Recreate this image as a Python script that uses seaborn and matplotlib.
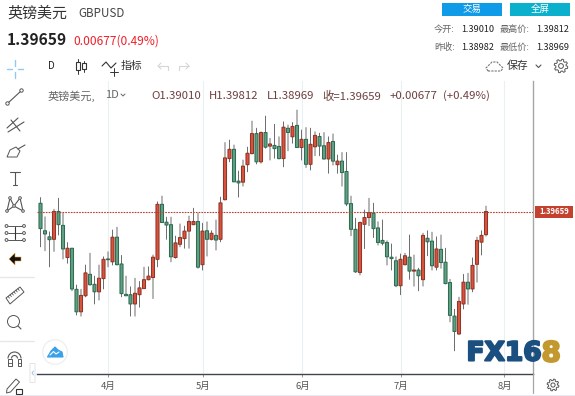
import numpy as np
import pandas as pd
import matplotlib
matplotlib.use("Agg")
import matplotlib.pyplot as plt
from matplotlib.patches import Rectangle, Circle, Polygon, FancyBboxPatch, Arc
import matplotlib.patheffects as pe
import seaborn as sns

# Daily candles
opens = [1.3989,1.3912,1.3895,1.3888,1.3966,1.3927,1.3837,1.3863,1.3748,1.3685,1.3730,1.3790,1.3762,1.3741,1.3778,1.3833,1.3825,1.3894,1.3819,1.3734,
         1.3733,1.3707,1.3733,1.3750,1.3775,1.3781,1.3832,1.3986,1.3936,1.3929,1.3837,1.3874,1.3890,1.3911,1.3929,1.3938,1.3817,1.3912,1.3888,1.3899,
         1.3888,1.3999,1.4114,1.4140,1.4051,1.4048,1.4097,1.4128,1.4184,1.4105,1.4187,1.4149,1.4151,1.4148,1.4114,1.4199,1.4175,1.4207,1.4145,1.4168,
         1.4098,1.4147,1.4176,1.4150,1.4113,1.4162,1.4097,1.4107,1.4078,1.3988,1.3916,1.3795,1.3930,1.3949,1.3961,1.3920,1.3885,1.3879,1.3838,1.3828,
         1.3758,1.3817,1.3838,1.3799,1.3802,1.3775,1.3891,1.3883,1.3810,1.3860,1.3824,1.3767,1.3673,1.3623,1.3707,1.3768,1.3749,1.3818,1.3880,1.3901]
highs = [1.4005,1.3951,1.3909,1.3972,1.4003,1.3961,1.3879,1.3863,1.3760,1.3748,1.3816,1.3849,1.3785,1.3816,1.3839,1.3853,1.3914,1.3922,1.3843,1.3785,
         1.3755,1.3779,1.3770,1.3810,1.3811,1.3844,1.3993,1.4009,1.3950,1.3950,1.3897,1.3931,1.3925,1.3953,1.3975,1.3961,1.3933,1.3937,1.3912,1.3942,
         1.4006,1.4159,1.4166,1.4152,1.4079,1.4110,1.4146,1.4219,1.4199,1.4189,1.4233,1.4171,1.4210,1.4175,1.4217,1.4208,1.4215,1.4250,1.4194,1.4201,
         1.4199,1.4189,1.4185,1.4187,1.4175,1.4183,1.4124,1.4131,1.4131,1.4009,1.3947,1.3937,1.3970,1.4003,1.3989,1.3937,1.3942,1.3884,1.3875,1.3839,
         1.3847,1.3849,1.3900,1.3844,1.3807,1.3905,1.3912,1.3908,1.3895,1.3900,1.3863,1.3776,1.3692,1.3726,1.3790,1.3793,1.3836,1.3894,1.3912,1.3981]
lows = [1.3867,1.3856,1.3811,1.3854,1.3900,1.3833,1.3821,1.3744,1.3676,1.3673,1.3727,1.3759,1.3707,1.3718,1.3749,1.3811,1.3816,1.3816,1.3727,1.3730,
        1.3673,1.3673,1.3698,1.3750,1.3774,1.3722,1.3811,1.3935,1.3888,1.3825,1.3835,1.3867,1.3863,1.3863,1.3929,1.3807,1.3802,1.3841,1.3886,1.3858,
        1.3881,1.3998,1.4105,1.4049,1.4006,1.4037,1.4077,1.4127,1.4099,1.4101,1.4143,1.4110,1.4115,1.4113,1.4091,1.4136,1.4157,1.4145,1.4110,1.4089,
        1.4082,1.4122,1.4122,1.4112,1.4073,1.4096,1.4073,1.4037,1.3982,1.3898,1.3795,1.3788,1.3862,1.3926,1.3893,1.3872,1.3872,1.3816,1.3802,1.3755,
        1.3733,1.3816,1.3776,1.3757,1.3744,1.3757,1.3842,1.3802,1.3802,1.3807,1.3763,1.3657,1.3576,1.3621,1.3693,1.3706,1.3741,1.3768,1.3844,1.3897]
closes = [1.3918,1.3903,1.3887,1.3966,1.3929,1.3861,1.3863,1.3749,1.3685,1.3731,1.3794,1.3761,1.3741,1.3779,1.3832,1.3831,1.3894,1.3817,1.3736,1.3730,
          1.3707,1.3737,1.3752,1.3775,1.3785,1.3838,1.3986,1.3935,1.3928,1.3839,1.3878,1.3893,1.3911,1.3938,1.3938,1.3810,1.3911,1.3888,1.3905,1.3886,
          1.3990,1.4116,1.4140,1.4049,1.4046,1.4093,1.4129,1.4184,1.4105,1.4187,1.4146,1.4155,1.4142,1.4114,1.4202,1.4187,1.4204,1.4145,1.4168,1.4098,
          1.4154,1.4179,1.4149,1.4113,1.4159,1.4107,1.4107,1.4075,1.3987,1.3916,1.3797,1.3935,1.3949,1.3963,1.3918,1.3879,1.3877,1.3839,1.3834,1.3758,
          1.3832,1.3842,1.3799,1.3802,1.3786,1.3899,1.3881,1.3814,1.3861,1.3823,1.3764,1.3675,1.3630,1.3714,1.3768,1.3749,1.3815,1.3885,1.3899,1.39659]

month_pos = [15.1, 36.1, 58.2, 80.2, 103.1]
month_labels = ["4月", "5月", "6月", "7月", "8月"]
last_price = 1.39659

sns.set_theme(style="white")
plt.rcParams["font.family"] = ["Noto Sans CJK SC", "DejaVu Sans"]

UP_FILL, UP_EDGE = "#d9533c", "#8e3325"
DN_FILL, DN_EDGE = "#629f82", "#2a6a50"

fig = plt.figure(figsize=(5.75, 3.96), dpi=100, facecolor="white")
W, H = 575.0, 396.0
L, R, T, B = 37.0, 533.0, 81.0, 374.0
ax = fig.add_axes([L / W, 1 - B / H, (R - L) / W, (B - T) / H], facecolor="white")

days = np.arange(len(opens))
o, h, l, c = map(np.array, (opens, highs, lows, closes))

wick = pd.DataFrame({"day": np.r_[days, days], "price": np.r_[h, l]})
sns.lineplot(data=wick, x="day", y="price", units="day", estimator=None, sort=False,
             color="#6f6f6f", linewidth=0.72, ax=ax, legend=False, zorder=2)
for line in ax.get_lines():
    line.set_snap(False)

up = c >= o
bars = ax.bar(days, np.abs(c - o), bottom=np.minimum(o, c), width=0.68,
              color=[UP_FILL if u else DN_FILL for u in up],
              edgecolor=[UP_EDGE if u else DN_EDGE for u in up],
              linewidth=0.72, zorder=3)
for b in bars:
    b.set_snap(False)

ax.axhline(last_price, color="#b5412f", lw=0.8, ls=(0, (1.5, 1)), zorder=4)

px = 4.5
ax.set_xlim((L - 40.5) / px, (R - 40.5) / px)
k = 0.00028
ax.set_ylim(last_price + (211.5 - B) * k, last_price + (211.5 - T) * k)
ax.set_xticks(month_pos)
ax.set_xticklabels(month_labels)
ax.set_yticks([])
ax.set_xlabel("")
ax.set_ylabel("")
ax.xaxis.grid(True, color="#e9eff3", lw=0.8)
ax.yaxis.grid(False)
ax.set_axisbelow(True)
ax.tick_params(axis="x", length=2.5, width=0.6, color="#888888", labelsize=6.8,
               labelcolor="#555555", pad=3.5, bottom=True)
for s in ("top", "left"):
    ax.spines[s].set_visible(False)
ax.spines["bottom"].set_color("#3f4450")
ax.spines["bottom"].set_linewidth(1.0)
ax.spines["right"].set_color("#a6a6a6")
ax.spines["right"].set_linewidth(1.0)

# overlay in picture units for the surrounding interface
ov = fig.add_axes([0, 0, 1, 1], facecolor="none")
ov.set_xlim(0, W)
ov.set_ylim(H, 0)
ov.axis("off")

ICON = "#555555"


def txt(x, y, s, size, color="#333333", ha="left", **kw):
    ov.text(x, y, s, fontsize=size, color=color, ha=ha, va="center", **kw)


def seg(pts, color=ICON, lw=0.8, **kw):
    xs, ys = zip(*pts)
    ov.plot(xs, ys, color=color, lw=lw, solid_capstyle="round", **kw)


def ring(x, y, r, color=ICON, lw=0.7, fc="white"):
    ov.add_patch(Circle((x, y), r, fc=fc, ec=color, lw=lw, zorder=5))


def gear(x, y, r, color=ICON):
    t = np.linspace(0, 2 * np.pi, 49)
    rr = r * (1 + 0.14 * np.sign(np.sin(8 * t)))
    ov.plot(x + rr * np.cos(t), y + rr * np.sin(t), color=color, lw=0.7)
    ring(x, y, r * 0.4, color, 0.7)


# header
txt(7, 13, "英镑美元", 10.8, "#333333")
txt(78, 13.5, "GBPUSD", 8.4, "#444444")
txt(7, 40, "1.39659", 11.2, "#222222", fontweight="bold")
txt(73.5, 41, "0.00677(0.49%)", 8.6, "#f0202a")
ov.add_patch(Rectangle((442, 3), 60, 13, fc="#0f9be8", ec="none"))
ov.add_patch(Rectangle((510, 3), 60, 13, fc="#0bb1cc", ec="none"))
txt(472, 9.5, "交易", 6.8, "white", ha="center")
txt(540, 9.5, "全屏", 6.8, "white", ha="center")
for yy, a, b, cc, d in [(29, "今开:", "1.39010", "最高价:", "1.39812"),
                        (47, "昨收:", "1.38982", "最低价:", "1.38969")]:
    txt(434, yy, a, 6.6, "#666666")
    txt(461, yy, b, 6.6, "#222222")
    txt(500, yy, cc, 6.6, "#666666")
    txt(536, yy, d, 6.6, "#222222")

# toolbar
txt(51, 66, "D", 7, "#222222", ha="center")
seg([(78, 59), (78, 74)], "#333333", 0.7)
seg([(84, 61), (84, 72)], "#333333", 0.7)
ov.add_patch(Rectangle((76, 62), 4, 8, fc="white", ec="#333333", lw=0.8, zorder=4))
ov.add_patch(Rectangle((82, 63), 3.5, 6, fc="white", ec="#333333", lw=0.8, zorder=4))
seg([(102, 66), (106, 62), (111, 68), (116, 63)], "#333333", 0.8)
seg([(110, 72), (118, 72)], "#333333", 0.7)
seg([(114, 68), (114, 76)], "#333333", 0.7)
txt(121, 65.5, "指标", 7.8, "#333333")
seg([(158, 66), (168, 66), (168, 70)], "#d6d6d6", 0.8)
seg([(161, 63), (158, 66), (161, 69)], "#d6d6d6", 0.8)
seg([(189, 66), (179, 66), (179, 70)], "#d6d6d6", 0.8)
seg([(186, 63), (189, 66), (186, 69)], "#d6d6d6", 0.8)
ov.plot([488, 486, 489, 492, 497, 500, 503, 501, 488], [71, 68, 65, 62, 62, 65, 68, 71, 71],
        color="#777777", lw=0.8, ls=(0, (2, 1)))
txt(507, 66, "保存", 7.8, "#333333")
seg([(536, 65), (538.5, 67.5), (541, 65)], "#555555", 0.8)
gear(561, 66, 6)

# legend row
lc = "#6e4040"
txt(48, 96, "英镑美元,", 8, "#666666")
txt(105, 95.5, "1D", 8, "#666666")
seg([(121, 94), (123, 96), (125, 94)], "#666666", 0.7)
txt(151, 96, "O1.39010", 8.2, lc)
txt(209, 96, "H1.39812", 8.2, lc)
txt(267, 96, "L1.38969", 8.2, lc)
txt(322, 96, "收=1.39659", 8.2, lc)
txt(390, 96, "+0.00677", 8.2, lc)
txt(443, 96, "(+0.49%)", 8.2, lc)

# price tag
ov.add_patch(Rectangle((535, 206), 38, 11.5, fc="#c4402f", ec="none"))
txt(554, 211.7, "1.39659", 5.6, "white", ha="center", fontweight="bold")

# left tools
blue = "#8fcaf2"
for p in ([(7, 69), (12, 69)], [(18, 69), (23, 69)], [(15, 60), (15, 66)], [(15, 72), (15, 78)]):
    seg(p, blue, 1.0)
seg([(8, 103), (21, 91)])
ring(7.5, 103.5, 1.7)
ring(21.5, 90.5, 1.7)
seg([(7, 128), (18, 118)])
seg([(8, 132), (24, 122)])
seg([(11, 120), (20, 131)])
ov.add_patch(Polygon([(7, 157), (10, 150), (16, 147), (20, 151), (17, 157)], fc="white", ec=ICON, lw=0.7))
seg([(18, 149), (25, 145)])
seg([(10, 172), (20, 172)])
seg([(15, 172), (15, 185)])
seg([(13, 185), (17, 185)])
net = [(10, 198), (20, 198), (7, 211), (14, 206), (23, 211)]
seg([net[2], net[0], net[3], net[1], net[4]])
seg([net[2], net[3], net[4]])
for n in net:
    ring(n[0], n[1], 1.3)
for yy in (226, 233, 240):
    seg([(8, yy), (23, yy)], ICON, 0.7)
    ring(6.5, yy, 1.4)
    ring(24, yy, 1.4)
seg([(15, 227), (15, 239)], "#333333", 0.8)
ov.add_patch(Polygon([(9, 259), (15, 253), (15, 257), (21, 257), (21, 261), (15, 261), (15, 265)],
                     fc="#111111", ec="#f0a040", lw=0.4))
seg([(0, 277), (34, 277)], "#e6e6e6", 0.9)
ov.add_patch(Polygon([(6, 298), (20, 287), (24, 292), (10, 304)], fc="white", ec=ICON, lw=0.7))
for t in np.linspace(0.15, 0.85, 6):
    xa, ya = 6 + 14 * t, 298 - 11 * t
    seg([(xa, ya), (xa + 1.3, ya + 1.8)], ICON, 0.6)
ring(13.5, 321.5, 6)
seg([(18, 326), (21, 329)])
seg([(11, 321.5), (16, 321.5)], ICON, 0.7)
seg([(13.5, 319), (13.5, 324)], ICON, 0.7)
seg([(0, 341), (34, 341)], "#e6e6e6", 0.9)
# magnet as an outline
ov.add_patch(Arc((14.5, 358.5), 13, 13, theta1=180, theta2=360, ec=ICON, lw=0.8))
ov.add_patch(Arc((14.5, 358.5), 6, 6, theta1=180, theta2=360, ec=ICON, lw=0.8))
for xa, xb in ((8, 11.5), (17.5, 21)):
    ov.add_patch(Rectangle((xa, 358.5), xb - xa, 7.5, fc="white", ec=ICON, lw=0.7))
    seg([(xa, 362.5), (xb, 362.5)], ICON, 0.6)
ov.add_patch(Polygon([(7, 389), (16, 379), (19.5, 382), (10.5, 392), (6.5, 393)], fc="white", ec=ICON, lw=0.7))
ov.add_patch(Rectangle((16, 388.5), 6, 5, fc="white", ec="#333333", lw=0.8, zorder=5))
ov.add_patch(FancyBboxPatch((30.5, 364), 4, 18, boxstyle="round,pad=0.5", fc="white", ec="#e4e4e4", lw=0.7))
seg([(33.5, 371), (32, 373), (33.5, 375)], "#9cc7e6", 0.7)

# cloud button
ov.add_patch(Circle((55, 352), 12.3, fc="white", ec="#eeeeee", lw=0.9))
ov.add_patch(Polygon([(47.5, 357), (51, 351), (53, 349), (55, 347), (58, 350), (62, 352), (63, 357)],
                     fc="#3aa0ea", ec="#3aa0ea", lw=0.8, joinstyle="round"))
seg([(50, 355), (53.5, 351.5), (56, 354), (59, 352)], "white", 0.8)

# bottom
seg([(533, 374), (533, 393)], "#a6a6a6", 0.9)
gear(553, 385, 5.2)
ov.add_patch(Rectangle((0, 394.7), 575, 1.3, fc="#e9e8f6", ec="none"))

# logo
ov.text(466.5, 353.5, "FX16", fontsize=19, color="#1a4f7f", fontweight="bold", ha="left", va="center",
        family="DejaVu Sans", path_effects=[pe.withStroke(linewidth=1.5, foreground="#1a4f7f")], zorder=8)
ov.text(541.5, 353.5, "8", fontsize=20, color="#c2982f", fontweight="bold", ha="left", va="center",
        family="DejaVu Sans", path_effects=[pe.withStroke(linewidth=1.5, foreground="#c2982f")], zorder=8)

fig.savefig("out.png", dpi=100)
